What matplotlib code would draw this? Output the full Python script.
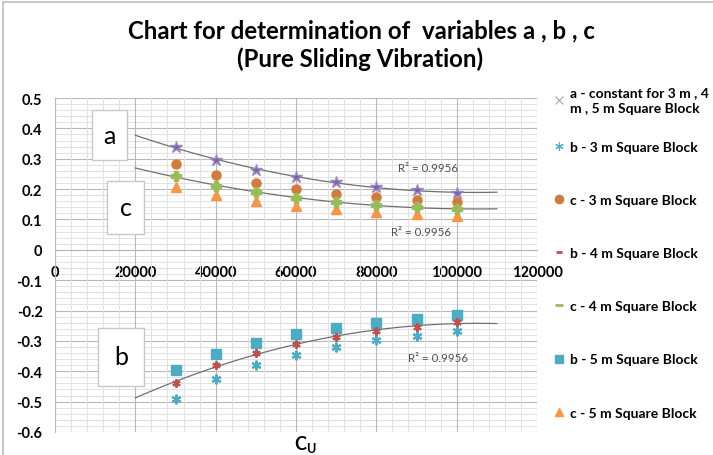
import numpy as np
import matplotlib
matplotlib.use("Agg")
import matplotlib.pyplot as plt
from matplotlib.lines import Line2D
from matplotlib.patches import Rectangle
from matplotlib.ticker import MultipleLocator

plt.rcParams['font.family'] = ['Lato', 'DejaVu Sans']

# data
cu = [30000, 40000, 50000, 60000, 70000, 80000, 90000, 100000]
a_all = [0.339, 0.296, 0.264, 0.239, 0.223, 0.208, 0.197, 0.186]
b_3m = [-0.490, -0.424, -0.379, -0.345, -0.321, -0.298, -0.284, -0.267]
c_3m = [0.283, 0.247, 0.219, 0.201, 0.185, 0.175, 0.164, 0.156]
b_4m = [-0.439, -0.380, -0.341, -0.311, -0.287, -0.266, -0.253, -0.239]
c_4m = [0.242, 0.211, 0.189, 0.172, 0.158, 0.148, 0.140, 0.133]
b_5m = [-0.395, -0.342, -0.307, -0.277, -0.259, -0.242, -0.228, -0.215]
c_5m = [0.208, 0.179, 0.161, 0.145, 0.136, 0.126, 0.118, 0.111]
x_ticks = [0, 20000, 40000, 60000, 80000, 100000, 120000]
y_ticks = [-0.6, -0.5, -0.4, -0.3, -0.2, -0.1, 0, 0.1, 0.2, 0.3, 0.4, 0.5]
r2_text = "R² = 0.9956"

fig = plt.figure(figsize=(7.13, 4.56), dpi=100)
ax = fig.add_axes([55/713, 1-433/456, 482/713, 334/456])

purple = '#7D60A0'
teal = '#4BACC6'
rust = '#D07C3C'
red = '#C0504D'
green = '#9BBB59'
orange = '#F79646'

# polynomial trend lines (order 2), forecast back/forward like excel
xx = np.linspace(20000, 110000, 200)
for ser in [a_all, c_4m, b_4m]:
    p = np.polyfit(cu, ser, 2)
    ax.plot(xx, np.polyval(p, xx), color='#707070', lw=0.9, zorder=2)

ax.plot(cu, a_all, ls='none', marker='*', ms=9, color=purple, mec='#9A88C0', zorder=3)
ax.plot(cu, c_3m, ls='none', marker='o', ms=6.5, color=rust, zorder=3)
ax.plot(cu, c_4m, ls='none', marker='P', ms=6.5, color=green, mec=green, zorder=4)
ax.plot(cu, c_5m, ls='none', marker='^', ms=6.5, color=orange, zorder=3)
ax.plot(cu, b_3m, ls='none', marker=(6, 2, 0), ms=7, mew=1.5, color=teal, zorder=3)
ax.plot(cu, b_4m, ls='none', marker=(6, 2, 0), ms=6, mew=1.5, color=red, zorder=4)
ax.plot(cu, b_5m, ls='none', marker='s', ms=6.5, color=teal, zorder=3)

ax.xaxis.set_minor_locator(MultipleLocator(4000))
ax.yaxis.set_minor_locator(MultipleLocator(0.02))
ax.set_xticks(x_ticks)
ax.set_xticklabels([str(v) for v in x_ticks])
ax.set_yticks(y_ticks)
ax.set_yticklabels([('%g' % v) for v in y_ticks])
ax.set_xlim(0, 120000)
ax.set_ylim(-0.6, 0.5)
ax.grid(which='major', color='#B8B8B8', lw=0.8)
ax.grid(which='minor', color='#E2E2E2', lw=0.7)
ax.set_axisbelow(True)
ax.xaxis.set_zorder(1.5)  # keep x labels over the horizontal grid

for s in ['top', 'right']:
    ax.spines[s].set_visible(False)
ax.spines['left'].set_color('#B8B8B8')
ax.spines['bottom'].set_position(('data', 0))
ax.spines['bottom'].set_color('#B8B8B8')
ax.tick_params(which='both', length=0)
ax.tick_params(axis='x', pad=11, labelsize=10.5, labelcolor='black')
ax.tick_params(axis='y', pad=9, labelsize=10.5, labelcolor='black')
plt.setp(ax.get_xticklabels() + ax.get_yticklabels(), fontweight='bold')

ax.text(92750, 0.27, r2_text, fontsize=8.3, color='#505050', ha='center', va='center')
ax.text(91000, 0.059, r2_text, fontsize=8.3, color='#505050', ha='center', va='center')
ax.text(95250, -0.355, r2_text, fontsize=8.3, color='#505050', ha='center', va='center')

# labelled boxes
for lab, x0, y0, w, h in [('a', 92, 111, 35, 50), ('c', 107, 182, 37, 53), ('b', 98, 329, 46, 58)]:
    fig.add_artist(Rectangle((x0/713, 1-(y0+h)/456), w/713, h/456, transform=fig.transFigure,
                             facecolor='white', edgecolor='#C8C8C8', lw=1, zorder=5))
    fig.text((x0+w/2)/713, 1-(y0+h/2)/456, lab, fontsize=18, ha='center', va='center', zorder=6)

fig.text(361/713, 1-38/456, "Chart for determination of  variables a , b , c",
         fontsize=17.3, fontweight='bold', ha='center', va='baseline')
fig.text(360/713, 1-67/456, "(Pure Sliding Vibration)",
         fontsize=17.3, fontweight='bold', ha='center', va='baseline')
fig.text(305/713, 1-445/456, r"C$_\mathregular{U}$", fontsize=13, fontweight='bold',
         ha='center', va='center')

# outer chart border
fig.add_artist(Rectangle((3/713, -0.1), 1.1, 1.1 - 3/456, transform=fig.transFigure,
                         fill=False, edgecolor='#BDBDBD', lw=1.2))

leg_font = {'size': 10, 'weight': 'bold'}
h_a = [Line2D([], [], ls='none', marker='x', ms=6, color='#A9A0C8', mew=0.8)]
leg1 = fig.legend(h_a, ["a - constant for 3 m , 4\nm , 5 m Square Block"], loc='upper left',
                  bbox_to_anchor=(548/713, 1-80/456), frameon=False, prop=leg_font,
                  handlelength=0.6, handletextpad=0.5, borderpad=0)
for t in leg1.get_texts():
    t.set_linespacing(1.4)

handles = [
    Line2D([], [], ls='none', marker=(6, 2, 0), ms=6, color=teal, mew=0.8),
    Line2D([], [], ls='none', marker='o', ms=6, color=rust),
    Line2D([], [], ls='none', marker='_', ms=5, mew=2, color=red),
    Line2D([], [], ls='none', marker='_', ms=6, mew=2, color=green),
    Line2D([], [], ls='none', marker='s', ms=6, color=teal),
    Line2D([], [], ls='none', marker='^', ms=6, color=orange),
]
labels = ["b - 3 m Square Block", "c - 3 m Square Block", "b - 4 m Square Block",
          "c - 4 m Square Block", "b - 5 m Square Block", "c - 5 m Square Block"]
fig.legend(handles, labels, loc='upper left', bbox_to_anchor=(548/713, 1-135/456),
           frameon=False, prop=leg_font, labelspacing=2.96,
           handlelength=0.6, handletextpad=0.5, borderpad=0)

fig.savefig('out.png', dpi=100)
